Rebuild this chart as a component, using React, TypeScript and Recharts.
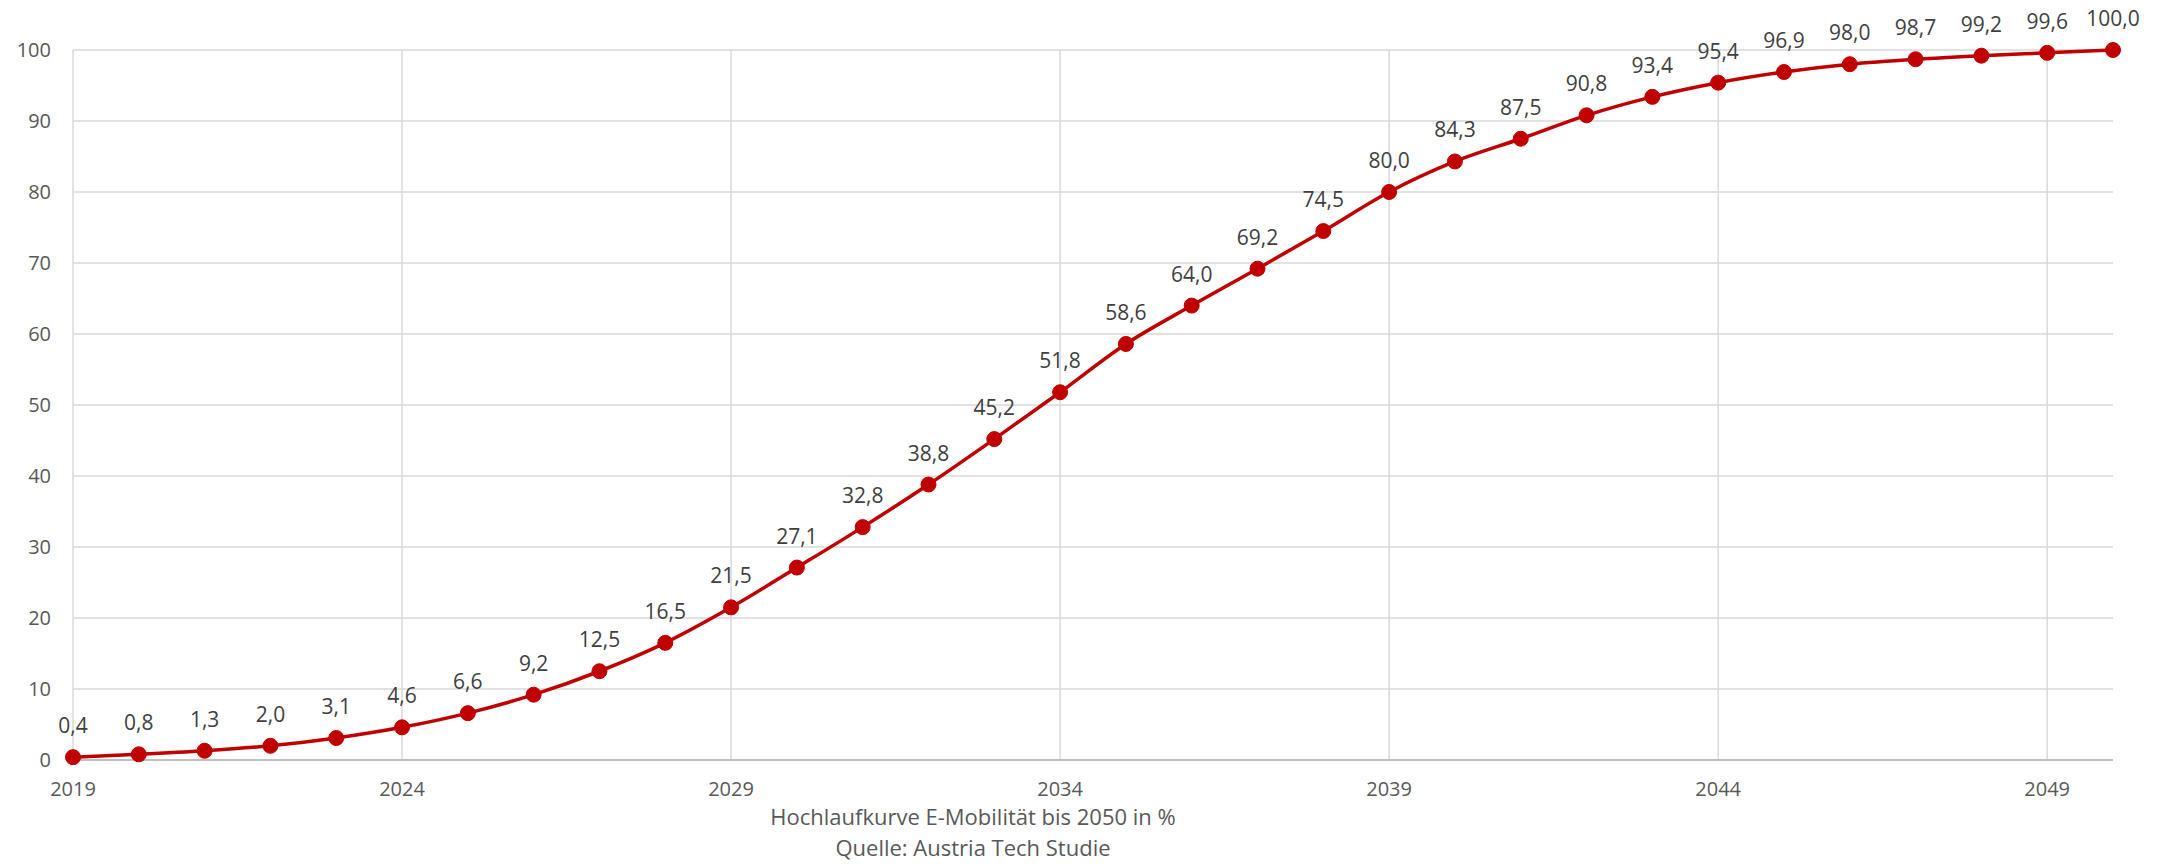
import {LineChart, Line, XAxis, YAxis, CartesianGrid, LabelList} from 'recharts';

const YEARS = Array.from({length: 32}, (_, i) => 2019 + i);
const SHARE = [
  0.4, 0.8, 1.3, 2.0, 3.1, 4.6, 6.6, 9.2, 12.5, 16.5, 21.5, 27.1, 32.8, 38.8, 45.2, 51.8,
  58.6, 64.0, 69.2, 74.5, 80.0, 84.3, 87.5, 90.8, 93.4, 95.4, 96.9, 98.0, 98.7, 99.2, 99.6, 100.0
];
const X_TICKS = [2019, 2024, 2029, 2034, 2039, 2044, 2049];
const Y_TICKS = [0, 10, 20, 30, 40, 50, 60, 70, 80, 90, 100];
const CAPTION = ['Hochlaufkurve E-Mobilität bis 2050 in %', 'Quelle: Austria Tech Studie'];

const FONT = "'Open Sans', 'Noto Sans', sans-serif";
const RED = '#C00000';

const data = YEARS.map((year, i) => ({year, share: SHARE[i]}));

const fmt = (v: number) => v.toFixed(1).replace('.', ',');

export default function App() {
  // fixed wrapper so the chart sits in page coordinates and nothing scrolls
  return (
    <div
      style={{
        position: 'fixed',
        left: 0,
        top: 0,
        width: 2167,
        height: 864,
        overflow: 'hidden',
        background: '#fff',
        fontFamily: FONT
      }}
    >
      <LineChart
        width={2167}
        height={864}
        data={data}
        margin={{top: 50, right: 54, bottom: 74, left: 23}}
      >
        <CartesianGrid stroke="#d9d9d9" strokeWidth={1.5} verticalValues={X_TICKS} horizontalValues={Y_TICKS} />
        <XAxis
          dataKey="year"
          type="number"
          domain={[2019, 2050]}
          ticks={X_TICKS}
          height={30}
          tickSize={0}
          tickMargin={22}
          axisLine={{stroke: '#bfbfbf', strokeWidth: 2}}
          tick={{fill: '#595959', fontSize: 20, fontFamily: FONT}}
        />
        <YAxis
          type="number"
          domain={[0, 100]}
          ticks={Y_TICKS}
          width={50}
          tickSize={0}
          tickMargin={22}
          axisLine={false}
          tickLine={false}
          tick={{fill: '#595959', fontSize: 20, fontFamily: FONT}}
        />
        <Line
          type="monotone"
          dataKey="share"
          stroke={RED}
          strokeWidth={3.5}
          dot={{r: 7.5, fill: RED, stroke: RED, strokeWidth: 1}}
          activeDot={false}
          isAnimationActive={false}
        >
          <LabelList
            dataKey="share"
            position="top"
            offset={24}
            formatter={(v: any) => fmt(Number(v))}
            style={{fill: '#404040', fontSize: 21, fontFamily: FONT}}
          />
        </Line>
      </LineChart>
      {CAPTION.map((line, i) => (
        <div
          key={line}
          style={{
            position: 'absolute',
            left: 973 - 400,
            width: 800,
            top: 801 + i * 31,
            textAlign: 'center',
            color: '#595959',
            fontSize: 22,
            lineHeight: '30px',
            whiteSpace: 'nowrap'
          }}
        >
          {line}
        </div>
      ))}
    </div>
  );
}
